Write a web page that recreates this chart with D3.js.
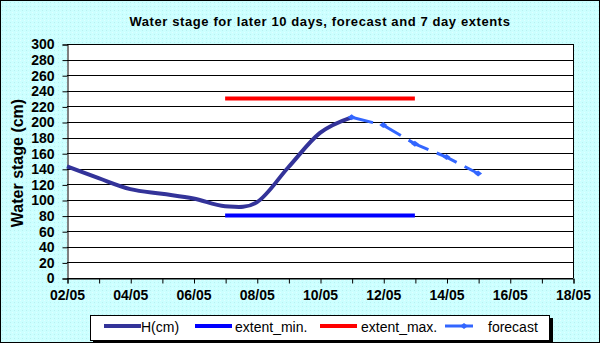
<!DOCTYPE html>
<html><head><meta charset="utf-8">
<script src="https://cdn.jsdelivr.net/npm/d3@7/dist/d3.min.js"></script>
<style>body{margin:0;padding:0;background:#fff}svg{display:block}text{font-family:Arial,"Liberation Sans",sans-serif}</style>
</head><body><div id="chart"></div>
<script>
const title = "Water stage for later 10 days, forecast and 7 day extents";
const yTitle = "Water stage (cm)";
const xTickDays = [2,4,6,8,10,12,14,16,18];
const xTickLabels = ["02/05","04/05","06/05","08/05","10/05","12/05","14/05","16/05","18/05"];
const yTicks = [0,20,40,60,80,100,120,140,160,180,200,220,240,260,280,300];
const hDays = [2,3,4,5,6,7,8,9,10,11];
const hValues = [143,128,114,108,102,92,97,142,186,206];
const extentDays = [7,13];
const extentMin = [80,80];
const extentMax = [230,230];
const fcDays = [11,12,13,14,15];
const fcValues = [206,196,172,155,134];
const legendNames = ["H(cm)","extent_min.","extent_max.","forecast"];

const W=600,H=343;
const svg=d3.select("#chart").append("svg").attr("width",W).attr("height",H);
const defs=svg.append("defs");
const pat=defs.append("pattern").attr("id","dots").attr("width",4).attr("height",4).attr("patternUnits","userSpaceOnUse");
pat.append("rect").attr("width",4).attr("height",4).attr("fill","#ccffff");
pat.append("rect").attr("x",0).attr("y",0).attr("width",1).attr("height",1).attr("fill","#e0ffff");
pat.append("rect").attr("x",2).attr("y",2).attr("width",1).attr("height",1).attr("fill","#b8f0f0");
svg.append("rect").attr("x",0.5).attr("y",0.5).attr("width",W-1).attr("height",H-1).attr("fill","url(#dots)").attr("stroke","#000");

const L=67,R=573,T=44,B=278;
const x=d3.scaleLinear().domain([2,18]).range([L,R]);
const y=d3.scaleLinear().domain([0,300]).range([B,T]);

svg.append("rect").attr("x",L).attr("y",T).attr("width",R-L).attr("height",B-T).attr("fill","#fff");
// gridlines
svg.append("g").selectAll("line").data(yTicks).join("line")
 .attr("x1",L).attr("x2",R).attr("y1",d=>Math.round(y(d))+0.5).attr("y2",d=>Math.round(y(d))+0.5)
 .attr("stroke","#000").attr("stroke-width",1);
svg.append("line").attr("x1",R+0.5).attr("x2",R+0.5).attr("y1",T).attr("y2",B).attr("stroke","#000");

// axes
const yAxis=d3.axisLeft(y).tickValues(yTicks).tickSize(5).tickPadding(8);
const gy=svg.append("g").attr("transform",`translate(${L+0.5},0.5)`).call(yAxis);
const xAxisMinor=d3.axisBottom(x).tickValues(d3.range(2,19,1)).tickSize(5).tickFormat("");
const gx=svg.append("g").attr("transform",`translate(0.5,${B+0.5})`).call(xAxisMinor);
const xAxis=d3.axisBottom(x).tickValues(xTickDays).tickSize(0).tickPadding(12).tickFormat((d,i)=>xTickLabels[i]);
const gx2=svg.append("g").attr("transform",`translate(0,${B})`).call(xAxis);
gx2.select(".domain").remove();
[gy,gx,gx2].forEach(g=>{g.selectAll("path.domain").attr("stroke","#000");g.selectAll("line").attr("stroke","#000");
 g.selectAll("text").attr("font-size",14).attr("font-weight","bold").attr("fill","#000").attr("font-family","Arial, 'Liberation Sans', sans-serif");});

// extents
const lineGen=d3.line().x(d=>x(d[0])).y(d=>y(d[1]));
svg.append("path").attr("d",lineGen(extentDays.map((d,i)=>[d,extentMin[i]]))).attr("stroke","#0000ff").attr("stroke-width",4).attr("fill","none");
svg.append("path").attr("d",lineGen(extentDays.map((d,i)=>[d,extentMax[i]]))).attr("stroke","#ff0000").attr("stroke-width",4).attr("fill","none");
// H
const smooth=d3.line().x(d=>x(d[0])).y(d=>y(d[1])).curve(d3.curveCardinal.tension(0));
svg.append("path").attr("d",smooth(hDays.map((d,i)=>[d,hValues[i]]))).attr("stroke","#333399").attr("stroke-width",4).attr("fill","none").attr("stroke-linejoin","round");
// forecast
svg.append("path").attr("d",lineGen(fcDays.map((d,i)=>[d,fcValues[i]]))).attr("stroke","#3366ff").attr("stroke-width",3).attr("fill","none").attr("stroke-dasharray","22,9");
const marker=(g,cx,cy)=>g.append("path").attr("d",`M${cx-4},${cy}L${cx},${cy-3}L${cx+4},${cy}L${cx},${cy+3}Z`).attr("fill","#3366ff");
fcDays.forEach((d,i)=>marker(svg,x(d),y(fcValues[i])));

// title
svg.append("text").attr("x",320).attr("y",26).attr("text-anchor","middle").attr("font-size",13).attr("font-weight","bold").attr("letter-spacing","0.6px").text(title);
svg.append("text").attr("transform","translate(23,163) rotate(-90)").attr("text-anchor","middle").attr("font-size",16).attr("font-weight","bold").text(yTitle);

// legend
const lg=svg.append("g");
lg.append("rect").attr("x",93).attr("y",318).attr("width",460).attr("height",25).attr("fill","#000");
lg.append("rect").attr("x",90.5).attr("y",315.5).attr("width",459).attr("height",25).attr("fill","#fff").attr("stroke","#000");
const items=[{x:104,c:"#333399",w:4},{x:195,c:"#0000ff",w:4},{x:320,c:"#ff0000",w:4},{x:445,c:"#3366ff",w:3,m:true}];
const textX=[141,235,361,488];
items.forEach((it,i)=>{
 const len= it.m?28:37;
 lg.append("line").attr("x1",it.x).attr("x2",it.x+len).attr("y1",326).attr("y2",326).attr("stroke",it.c).attr("stroke-width",it.w);
 if(it.m) marker(lg,it.x+19,326);
 lg.append("text").attr("x",textX[i]).attr("y",332).attr("font-size",14).text(legendNames[i]);
});
</script></body></html>
